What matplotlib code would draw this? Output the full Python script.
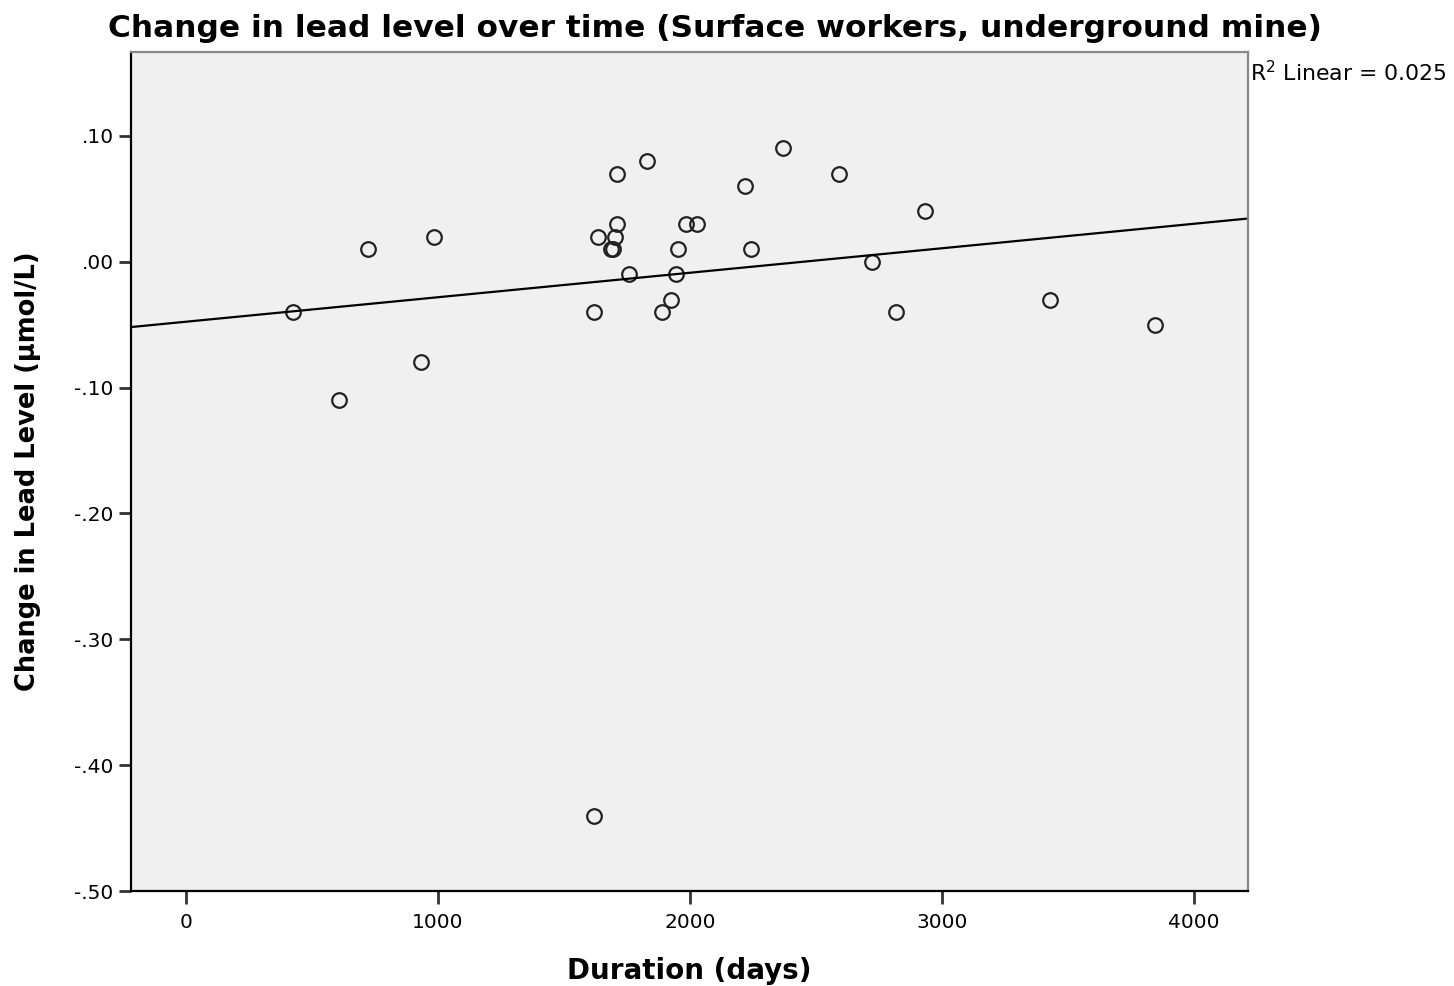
import numpy as np
import matplotlib
matplotlib.use("Agg")
import matplotlib.pyplot as plt

plt.rcParams['font.family'] = ['DejaVu Sans']

# duration (days) and change in lead level
duration = [425, 607, 722, 933, 984, 1619, 1619, 1635, 1687, 1694, 1702, 1710,
            1710, 1758, 1829, 1889, 1925, 1944, 1952, 1984, 2028, 2218, 2242,
            2369, 2591, 2722, 2817, 2933, 3429, 3845]
change = [-0.04, -0.11, 0.01, -0.08, 0.02, -0.44, -0.04, 0.02, 0.01, 0.01, 0.02, 0.07,
          0.03, -0.01, 0.08, -0.04, -0.03, -0.01, 0.01, 0.03, 0.03, 0.06, 0.01,
          0.09, 0.07, 0.00, -0.04, 0.04, -0.03, -0.05]

xticks = [0, 1000, 2000, 3000, 4000]
yticks = [0.10, 0.00, -0.10, -0.20, -0.30, -0.40, -0.50]
ylabels = ['.10', '.00', '-.10', '-.20', '-.30', '-.40', '-.50']
xlim = (-218, 4214)
ylim = (-0.50, 0.1667)

fig = plt.figure(figsize=(14.54, 9.86), dpi=100)
ax = fig.add_axes([0.0901, 0.0963, 0.7682, 0.851])
ax.set_facecolor('#f0f0f0')

ax.plot(duration, change, linestyle='none', marker='o', markersize=10.5,
        markerfacecolor='none', markeredgecolor='#222222', markeredgewidth=1.6)

# linear fit line across the plot
slope, icpt = np.polyfit(duration, change, 1)
xs = np.array(xlim)
ax.plot(xs, icpt + slope * xs, color='black', linewidth=1.6)

ax.set_xlim(*xlim)
ax.set_ylim(*ylim)
ax.set_xticks(xticks)
ax.set_xticklabels([str(t) for t in xticks])
ax.set_yticks(yticks)
ax.set_yticklabels(ylabels)
ax.tick_params(direction='out', length=9, width=2, labelsize=14.5, colors='#333333',
               labelcolor='black')
ax.tick_params(axis='x', pad=7)

for s in ['left', 'bottom']:
    ax.spines[s].set_color('black')
    ax.spines[s].set_linewidth(1.6)
for s in ['top', 'right']:
    ax.spines[s].set_color('#888888')
    ax.spines[s].set_linewidth(1.6)

fig.text(0.4918, 0.9625, 'Change in lead level over time (Surface workers, underground mine)',
         fontsize=22.5, fontweight='bold', ha='center', va='baseline')
ax.set_xlabel('Duration (days)', fontsize=20, fontweight='bold', labelpad=18)
ax.set_ylabel('Change in Lead Level (µmol/L)', fontsize=18.5, fontweight='bold', labelpad=24)

fig.text(0.8597, 0.926, 'R$^2$ Linear = 0.025', fontsize=15.8, ha='left', va='center')

fig.savefig('out.png', dpi=100)
